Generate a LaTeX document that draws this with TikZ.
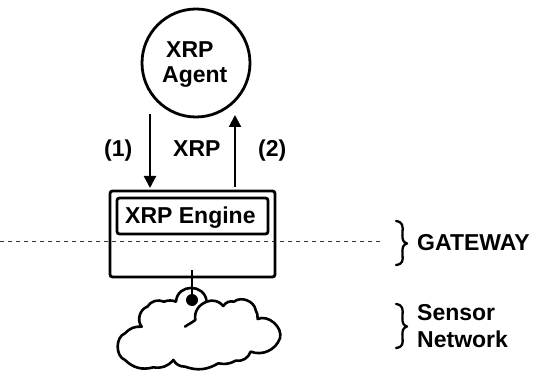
\documentclass[tikz,border=0pt]{standalone}
\usepackage{fontspec}
\setmainfont{Liberation Sans}
\usetikzlibrary{arrows.meta}
\tikzset{
  lab/.style={font=\fontsize{23}{26}\selectfont\bfseries,anchor=base west,inner sep=0pt,text=black},
  flow/.style={line width=2.2pt,-{Triangle[length=12pt,width=12pt]}},
  boxed/.style={draw=black,line width=2.8pt,rounded corners=2.5pt,inner sep=0pt},
  bracepath/.style={line width=2.3pt,line cap=round,line join=round},
}
\begin{document}
\begin{tikzpicture}[x=1pt,y=-1pt]
\useasboundingbox (0,0) rectangle (534,371);
\draw[line width=0.8pt,dash pattern=on 4pt off 4pt,black!80] (0,241) -- (382,241);
\node[draw=black,line width=2.8pt,circle,minimum size=108pt,inner sep=0pt] (agent) at (196,63) {};
\node[boxed,minimum width=165pt,minimum height=86pt] (gw) at (192.5,234) {};
\node[boxed,minimum width=151pt,minimum height=36pt] (engine) at (192.5,216) {};
\node[lab] (tx) at (166,58) {XRP};
\node[lab] (ta) at (162,83) {Agent};
\node[lab] (t1) at (104,157) {(1)};
\node[lab] (tm) at (173,157) {XRP};
\node[lab] (t2) at (258,157) {(2)};
\node[lab] (te) at (125,223) {XRP Engine};
\node[lab] (tg) at (417,250) {GATEWAY};
\node[lab] (ts) at (417,320) {Sensor};
\node[lab] (tn) at (417,347) {Network};
\coordinate (a1s) at (150,114);
\coordinate (a1e) at (150,188);
\coordinate (a2s) at (235,187);
\coordinate (a2e) at (235,115);
\draw[flow] (a1s) -- (a1e);
\draw[flow] (a2s) -- (a2e);
% cloud
\begin{scope}[shift={(90,170)},x=0.3333pt,y=-0.3333pt,line width=2.6pt,line join=round,line cap=round]
\draw (258,395) .. controls (262,340) and (345,340) .. (350,395) to[bend left=35] (400,408) to[bend left=35] (432,395)
 to[bend left=60] (497,420) to[bend left=15] (503,447) to[bend left=65] (570,505)
 to[bend left=45] (482,545) to[bend left=40] (437,572) to[bend left=20] (385,580)
 to[bend left=25] (285,590) to[bend left=30] (250,570) to[bend left=30] (190,592)
 to[bend left=30] (105,570) to[bend left=70] (105,490) to[bend left=25] (155,470)
 to[bend left=55] (172,410) to[bend left=40] (222,395) to[bend left=20] (258,395);
\draw (350,395) .. controls (325,405) and (312,425) .. (316,450) .. controls (306,458) and (296,462) .. (285,470);
\end{scope}
\coordinate (wire) at (192,270);
\node[circle,fill=black,minimum size=12pt,inner sep=0pt] (dot) at (192,300) {};
\draw[line width=2pt] (wire) -- (dot);
% braces
\draw[bracepath] (396,221) .. controls (403,222) and (403,226) .. (402.5,233) .. controls (402,240) and (403,242) .. (407,243.5) .. controls (403,245) and (402,247) .. (402.5,254) .. controls (403,261) and (403,264) .. (396,265);
\draw[bracepath] (396,304) .. controls (403,305) and (403,309) .. (402.5,316) .. controls (402,323) and (403,325) .. (407,326.5) .. controls (403,328) and (402,330) .. (402.5,337) .. controls (403,344) and (403,347) .. (396,348);
\end{tikzpicture}
\end{document}
